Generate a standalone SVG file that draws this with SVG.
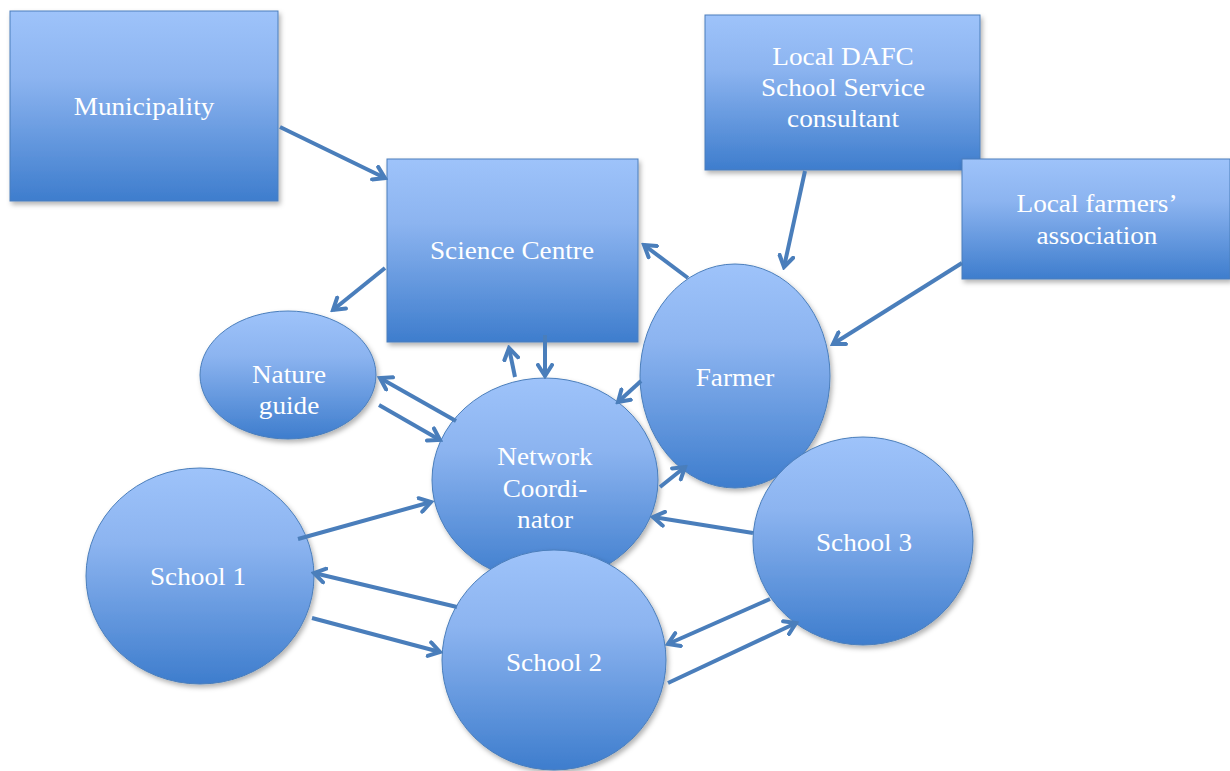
<svg xmlns="http://www.w3.org/2000/svg" width="1230" height="771" viewBox="0 0 1230 771">
<defs>
<linearGradient id="g" x1="0" y1="0" x2="0" y2="1">
<stop offset="0" stop-color="#9ec3fa"/>
<stop offset="0.35" stop-color="#8cb4f0"/>
<stop offset="1" stop-color="#3e7dcd"/>
</linearGradient>
<filter id="sh" x="-10%" y="-10%" width="125%" height="125%">
<feDropShadow dx="2" dy="3" stdDeviation="2.5" flood-color="#000" flood-opacity="0.3"/>
</filter>
<marker id="ah" viewBox="0 0 16 18" refX="13" refY="9" markerWidth="16" markerHeight="18" markerUnits="userSpaceOnUse" orient="auto">
<path d="M2,2 L13,9 L2,16" fill="none" stroke="#4a7ebb" stroke-width="4" stroke-linecap="round" stroke-linejoin="miter"/>
</marker>
</defs>
<style>
.n{fill:url(#g);stroke:#4a7ebb;stroke-width:1;filter:url(#sh)}
.t{font-family:"Liberation Serif","Times New Roman",serif;font-size:25px;fill:#ffffff;text-anchor:middle}
.c line{stroke:#4a7ebb;stroke-width:4;marker-end:url(#ah)}
</style>
<rect width="1230" height="771" fill="#ffffff"/>
<g id="municipality">
<rect class="n" x="10" y="11" width="268" height="190"/>
<text class="t" transform="translate(144,115) scale(1.09,1)">Municipality</text>
</g>
<g id="science-centre">
<rect class="n" x="387" y="159" width="251" height="183"/>
<text class="t" transform="translate(512,259) scale(1.09,1)">Science Centre</text>
</g>
<g id="dafc">
<rect class="n" x="705" y="15" width="275" height="155"/>
<text class="t" transform="translate(843,65) scale(1.09,1)">Local DAFC</text>
<text class="t" transform="translate(843,96) scale(1.09,1)">School Service</text>
<text class="t" transform="translate(843,127) scale(1.09,1)">consultant</text>
</g>
<g id="farmers-association">
<rect class="n" x="962" y="159" width="268" height="120"/>
<text class="t" transform="translate(1097,212) scale(1.09,1)">Local farmers’</text>
<text class="t" transform="translate(1097,244) scale(1.09,1)">association</text>
</g>
<g id="nature-guide">
<ellipse class="n" cx="288" cy="375" rx="88" ry="64"/>
<text class="t" transform="translate(289,383) scale(1.09,1)">Nature</text>
<text class="t" transform="translate(289,414) scale(1.09,1)">guide</text>
</g>
<g id="network-coordinator">
<ellipse class="n" cx="545" cy="480" rx="113" ry="102"/>
<text class="t" transform="translate(545,465) scale(1.09,1)">Network</text>
<text class="t" transform="translate(545,497) scale(1.09,1)">Coordi-</text>
<text class="t" transform="translate(545,528) scale(1.09,1)">nator</text>
</g>
<g id="farmer">
<ellipse class="n" cx="735" cy="376" rx="95" ry="112"/>
<text class="t" transform="translate(735,386) scale(1.09,1)">Farmer</text>
</g>
<g id="school-1">
<ellipse class="n" cx="200" cy="576" rx="114" ry="108"/>
<text class="t" transform="translate(198,585) scale(1.09,1)">School 1</text>
</g>
<g id="school-3">
<ellipse class="n" cx="863" cy="541" rx="110" ry="104"/>
<text class="t" transform="translate(864,551) scale(1.09,1)">School 3</text>
</g>
<g id="school-2">
<ellipse class="n" cx="554" cy="660" rx="112" ry="110"/>
<text class="t" transform="translate(554,671) scale(1.09,1)">School 2</text>
</g>
<g id="connectors" class="c">
<line x1="280" y1="127" x2="385" y2="178"/>
<line x1="385" y1="268" x2="333" y2="310"/>
<line x1="515" y1="377" x2="509" y2="348"/>
<line x1="545" y1="335" x2="545" y2="376"/>
<line x1="688" y1="278" x2="644" y2="245"/>
<line x1="805" y1="171" x2="784" y2="267"/>
<line x1="962" y1="263" x2="833" y2="344"/>
<line x1="641" y1="381" x2="618" y2="402"/>
<line x1="456" y1="421" x2="380" y2="378"/>
<line x1="379" y1="405" x2="440" y2="440"/>
<line x1="298" y1="539" x2="431" y2="502"/>
<line x1="457" y1="607" x2="314" y2="573"/>
<line x1="312" y1="618" x2="440" y2="652"/>
<line x1="660" y1="487" x2="685" y2="467"/>
<line x1="753" y1="533" x2="653" y2="517"/>
<line x1="770" y1="599" x2="668" y2="644"/>
<line x1="668" y1="683" x2="796" y2="623"/>
</g>
</svg>
